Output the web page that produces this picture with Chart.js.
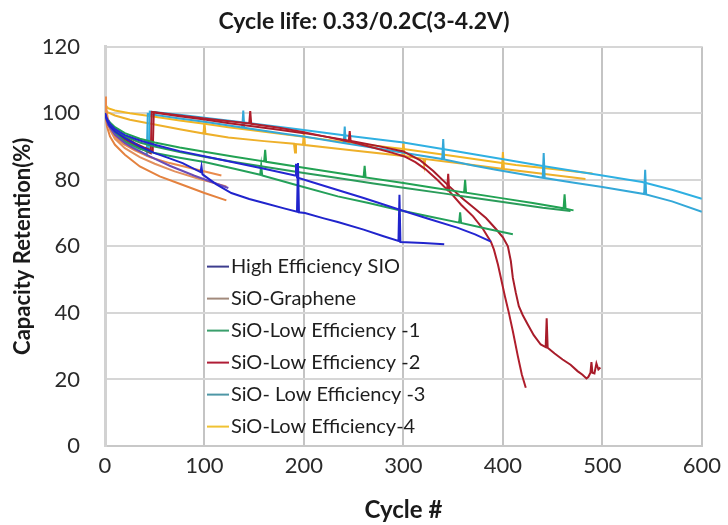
<!DOCTYPE html>
<html>
<head>
<meta charset="utf-8">
<script src="https://cdn.jsdelivr.net/npm/chart.js@4.4.1/dist/chart.umd.min.js"></script>
<style>
  html, body { margin: 0; padding: 0; background: #ffffff; }
  #wrap { width: 728px; height: 525px; }
</style>
</head>
<body>
<div id="wrap"><canvas id="chart" width="728" height="525"></canvas></div>
<script>
// Cycle-life capacity retention of several SiO anode variants, one curve per cell.
const chartTitle = 'Cycle life: 0.33/0.2C(3-4.2V)';
const xAxisTitle = 'Cycle #';
const yAxisTitle = 'Capacity Retention(%)';
const xTickValues = [0, 100, 200, 300, 400, 500, 600];
const yTickValues = [0, 20, 40, 60, 80, 100, 120];

const seriesNames = [
  'High Efficiency SIO',
  'SiO-Graphene',
  'SiO-Low Efficiency -1',
  'SiO-Low Efficiency -2',
  'SiO- Low Efficiency -3',
  'SiO-Low Efficiency-4'
];
const legendColors = ['#3d3d8e', '#a28a7c', '#3a9f6c', '#b01d36', '#4e97a6', '#f0c232'];

// [cycle, retention %]
const hiEffCellA = [[0,100],[2,98.3],[5,96.8],[10,95.2],[20,93.4],[35,91.8],[50,90.5],[75,88.6],[101,87],[130,85.2],[160,83.3],[191,81.3],[192,84.8],[193,80.7],[224,77.8],[260,74.5],[294,71.2],[325,68.3],[354,65.6],[372,63.6],[388,61.4]];
const hiEffCellB = [[0,100],[2,97.8],[5,96],[10,94.5],[20,92.5],[35,90],[50,88],[65,86.4],[78,85],[96,82.3],[97,84],[98,81.6],[112,78.6],[127,76],[145,74.2],[160,73],[180,71.4],[193,70.4],[194,85],[195,70.2],[201,70],[220,68.4],[234,67.3],[260,65],[280,63],[295,61.6],[296,75.5],[297,61.3],[320,61],[341,60.6]];
const hiEffCellC = [[0,100],[3,96.5],[10,93.5],[20,91],[28,89.6],[45,87],[65,84.2],[90,81.2],[110,79],[124,77.5]];

const grapheneCellA = [[0,105],[1,102],[3,98],[6,95],[10,93],[18,90.8],[30,88.8],[45,86.8],[65,85],[90,83.2],[117,81.3]];
const grapheneCellB = [[0,102],[2,98],[5,95],[10,92.3],[20,89.5],[35,86.8],[50,84.8],[70,82.5],[95,80.2],[122,78]];
const grapheneCellC = [[0,100],[2,96],[5,93],[10,90.5],[20,87.5],[35,84],[55,81],[75,78.8],[100,76],[122,73.8]];

const lowEff1CellA = [[0,100],[2,98.5],[5,97.2],[10,95.8],[20,94],[35,92.3],[50,91.2],[75,89.7],[100,88.4],[130,86.9],[160,85.5],[161,89],[162,85.4],[200,83.6],[234,82],[260,80.8],[261,84.2],[262,80.7],[300,79],[330,77.6],[361,76.2],[362,80],[363,76.1],[400,74.4],[430,73],[461,71.4],[462,75.6],[463,71.3],[471,70.8]];
const lowEff1CellB = [[0,100],[2,98],[5,96.5],[10,95],[20,93],[35,91.2],[50,90],[75,88.3],[100,86.9],[130,85.3],[160,83.9],[200,82],[234,80.5],[270,78.9],[300,77.6],[340,75.9],[370,74.6],[400,73.3],[440,71.6],[468,70.6]];
const lowEff1CellC = [[0,100],[2,97.5],[5,95.8],[10,94],[20,91.5],[35,89.3],[50,88],[75,86.6],[100,85.3],[130,83.3],[156,81.5],[157,84.3],[158,81.3],[195,78.2],[234,75],[265,73],[294,71],[325,69],[356,67.1],[357,70.2],[358,67],[385,65.2],[410,63.6]];

const lowEff2CellA = [[0,100],[2,98],[5,96.3],[10,94.6],[18,92.5],[25,91.2],[35,89.6],[46,88],[47,100.4],[75,99.3],[100,98.4],[125,97.6],[145,96.9],[146,100.6],[147,96.8],[175,95.6],[200,94.3],[224,92.8],[245,91.5],[246,94.6],[247,91.4],[270,89.6],[290,88],[301,87],[312,85.3],[322,83.2],[334,80],[344,77],[345,81.8],[346,76.6],[358,72.5],[370,69],[380,65.2],[388,61.3],[391,59],[395,54.5],[398,50.5],[402,45],[406,40],[410,34.5],[415,27],[419,21.5],[423,17.5]];
const lowEff2CellB = [[0,100],[2,98.2],[5,96.6],[10,95.2],[20,92.8],[30,91],[40,89.6],[48,88.6],[49,100.2],[75,99.1],[100,98.1],[125,97],[150,96],[175,95],[200,94],[225,92.8],[250,91.5],[275,90.1],[300,88.5],[317,85.8],[330,82.6],[345,78.3],[360,74.2],[372,71.3],[383,68.5],[393,65.2],[400,62.7],[405,60],[408,55.5],[410,50.5],[413,46],[416,42],[420,39.3],[425,36.5],[431,33.3],[438,30.5],[443,29.7],[444,38.4],[445,29.5],[452,27.8],[460,26],[468,24.4],[475,22.5],[480,21.4],[484,20.3],[486,20.8],[488,22],[489,25.2],[490,22],[492,21.8],[494,24.8],[496,23],[498,23.6]];

const lowEff3CellA = [[0,100],[2,98],[5,96.5],[10,94.8],[20,92.3],[30,90.4],[44,88.3],[45,100.5],[75,99.5],[100,98.6],[140,97.2],[194,95.2],[240,93.4],[300,91.2],[350,88.7],[393,86.5],[440,84.1],[500,81.3],[540,79.3],[570,77],[600,74.3]];
const lowEff3CellB = [[0,100],[2,97.5],[5,95.8],[10,94],[20,91.4],[30,89.4],[42,87.3],[43,99.8],[75,98.4],[100,97.4],[138,95.7],[139,100.8],[140,95.6],[180,93.8],[200,93],[240,91],[241,96],[242,90.9],[270,89.6],[300,88.1],[339,86.2],[340,92.2],[341,86.1],[370,84.3],[393,83],[440,80.6],[441,88],[442,80.5],[470,79.2],[500,77.8],[542,75.7],[543,83],[544,75.6],[570,73.5],[600,70.4]];

const lowEff4CellA = [[0,103.5],[1,102.3],[3,101.5],[10,100.8],[25,100],[50,98.9],[75,97.8],[100,96.8],[124,95.8],[160,94.4],[194,93.1],[250,91],[300,89.2],[350,87.1],[413,84.4],[450,83.2],[490,81.9]];
const lowEff4CellB = [[0,101.5],[1,100.8],[3,100.2],[10,99.3],[25,98],[50,96.6],[75,95.2],[99,93.9],[100,97],[101,93.8],[124,92.7],[160,91.6],[190,90.8],[191,88.2],[192,90.7],[199,90.5],[200,94.5],[201,90.4],[250,88.8],[299,87.2],[300,91.6],[301,87.1],[320,86.3],[321,84.2],[322,86.2],[360,84.8],[399,83.3],[400,88.3],[401,83.2],[440,81.8],[483,80.2]];

// series index, line colour, cell data
const cells = [
  [0, '#2426d2', hiEffCellA],
  [0, '#2024cc', hiEffCellB],
  [0, '#6a4cb6', hiEffCellC],
  [1, '#e98a4c', grapheneCellA],
  [1, '#e2905e', grapheneCellB],
  [1, '#e4823f', grapheneCellC],
  [2, '#22a253', lowEff1CellA],
  [2, '#2a9c5a', lowEff1CellB],
  [2, '#24a05a', lowEff1CellC],
  [3, '#b01e2c', lowEff2CellA],
  [3, '#a81c2a', lowEff2CellB],
  [4, '#2fb0e2', lowEff3CellA],
  [4, '#34a8d8', lowEff3CellB],
  [5, '#f2b624', lowEff4CellA],
  [5, '#eeb02a', lowEff4CellB]
];

const datasets = cells.map(([s, color, pts]) => ({
  label: seriesNames[s],
  data: pts.map(([x, y]) => ({ x, y })),
  borderColor: color,
  backgroundColor: color,
  borderWidth: 2,
  pointRadius: 0,
  pointHoverRadius: 0,
  fill: false,
  tension: 0
}));

const FONT = 'Lato, "Open Sans", "DejaVu Sans", sans-serif';

// Legend drawn inside the plot area, rows stacked below the 60 % line.
const innerLegend = {
  id: 'innerLegend',
  afterDatasetsDraw(chart) {
    const { ctx, chartArea } = chart;
    const x0 = chartArea.left + 102;
    const y0 = chartArea.top + 220;
    const step = 32;
    ctx.save();
    ctx.font = '20px ' + FONT;
    ctx.textBaseline = 'middle';
    ctx.textAlign = 'left';
    seriesNames.forEach((name, i) => {
      const y = y0 + i * step;
      ctx.strokeStyle = legendColors[i];
      ctx.lineWidth = 2;
      ctx.beginPath();
      ctx.moveTo(x0, y);
      ctx.lineTo(x0 + 22, y);
      ctx.stroke();
      ctx.fillStyle = '#1e1e1e';
      ctx.fillText(name, x0 + 24, y);
    });
    ctx.restore();
  }
};

new Chart(document.getElementById('chart'), {
  type: 'line',
  data: { datasets },
  plugins: [innerLegend],
  options: {
    responsive: false,
    animation: false,
    devicePixelRatio: 1,
    layout: { padding: { left: 0, right: 0, top: 0, bottom: 0 } },
    plugins: {
      legend: { display: false },
      tooltip: { enabled: false },
      title: {
        display: true,
        text: chartTitle,
        color: '#1a1a1a',
        font: { family: FONT, size: 23, weight: 'bold' },
        padding: { top: 8, bottom: 11 }
      }
    },
    scales: {
      x: {
        type: 'linear',
        min: 0,
        max: 600,
        afterBuildTicks: (scale) => { scale.ticks = xTickValues.map(v => ({ value: v })); },
        afterFit: (scale) => { scale.height = 79; },
        ticks: { color: '#2a2a2a', font: { family: FONT, size: 22 }, padding: 7, maxRotation: 0 },
        grid: { color: '#c4c4c4', lineWidth: 2, drawTicks: false },
        border: { color: '#c8c8c8', width: 2 },
        title: {
          display: true,
          text: xAxisTitle,
          color: '#1a1a1a',
          font: { family: FONT, size: 24, weight: 'bold' },
          padding: { top: 0, bottom: 0 }
        }
      },
      y: {
        min: 0,
        max: 120,
        afterBuildTicks: (scale) => { scale.ticks = yTickValues.map(v => ({ value: v })); },
        afterFit: (scale) => { scale.width = 105; },
        ticks: { color: '#2a2a2a', font: { family: FONT, size: 22 }, padding: 25 },
        grid: { color: '#d6d6d6', lineWidth: 2, drawTicks: false },
        border: { color: '#d2d2d2', width: 3 },
        title: {
          display: true,
          text: yAxisTitle,
          color: '#1a1a1a',
          font: { family: FONT, size: 22, weight: 'bold' },
          padding: { top: 10, bottom: 0 }
        }
      },
      // empty right-hand margin so the title centres on the full canvas
      yRight: {
        position: 'right',
        min: 0,
        max: 120,
        afterFit: (scale) => { scale.width = 20; },
        ticks: { display: false },
        grid: { display: false, drawTicks: false },
        border: { display: false }
      }
    }
  }
});
</script>
</body>
</html>
